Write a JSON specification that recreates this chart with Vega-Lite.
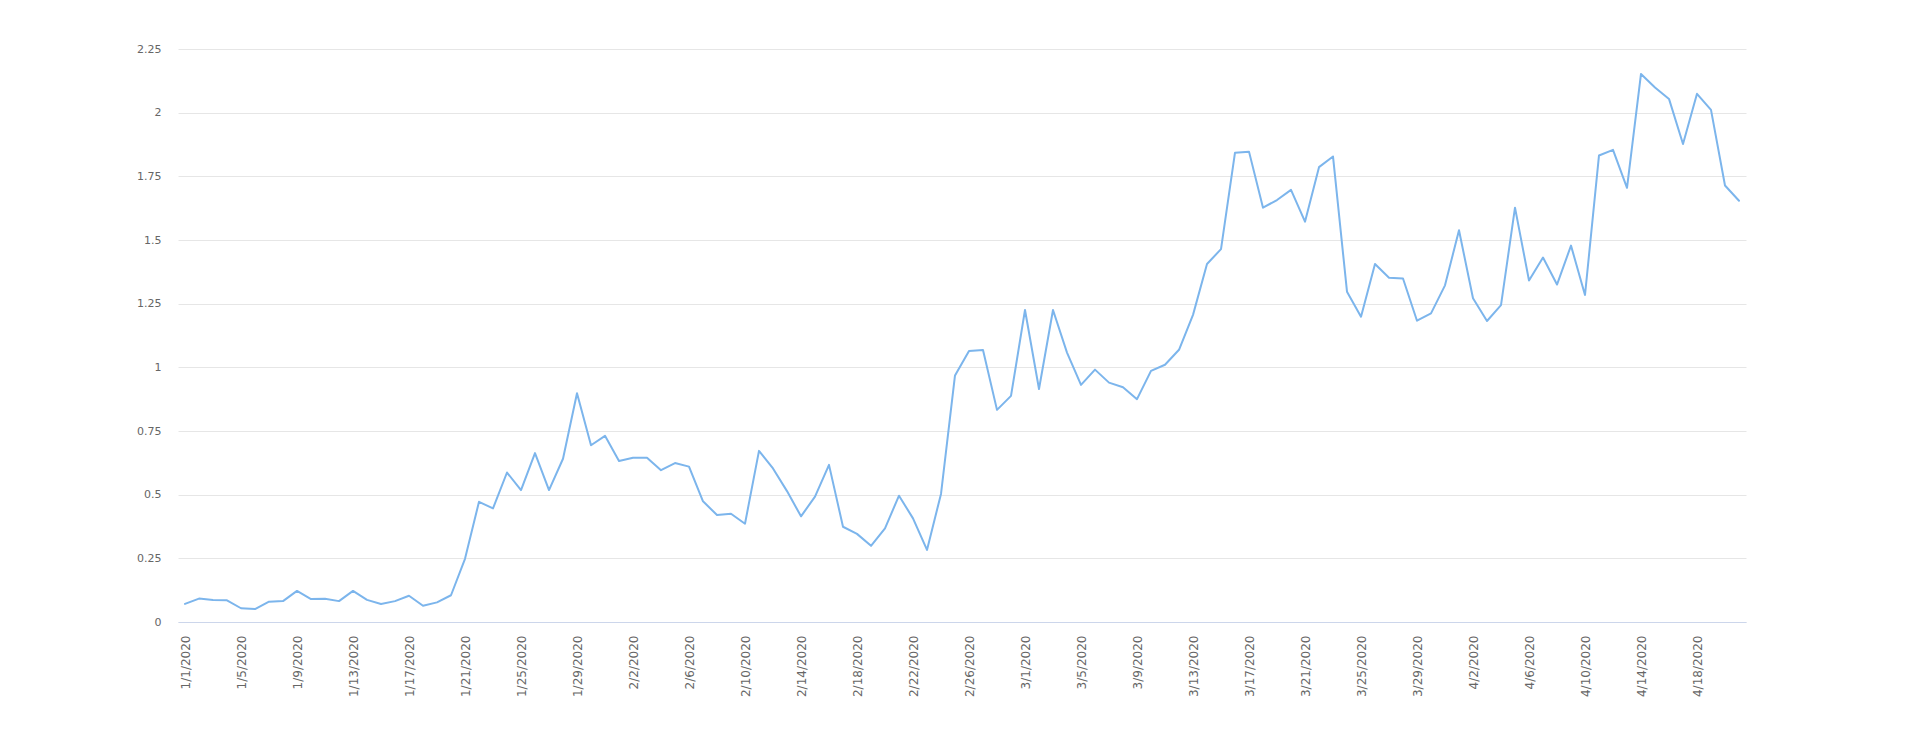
{
  "$schema": "https://vega.github.io/schema/vega-lite/v6.json",
  "description": "Daily values from 1/1/2020 to 4/21/2020 as a single line.",
  "autosize": "none",
  "width": 1568,
  "height": 573,
  "padding": {"left": 178, "top": 49, "right": 174, "bottom": 119},
  "background": "#ffffff",
  "data": {
    "values": [
      {"date": "1/1/2020", "value": 0.071},
      {"date": "1/2/2020", "value": 0.092},
      {"date": "1/3/2020", "value": 0.086},
      {"date": "1/4/2020", "value": 0.085},
      {"date": "1/5/2020", "value": 0.054},
      {"date": "1/6/2020", "value": 0.051},
      {"date": "1/7/2020", "value": 0.08},
      {"date": "1/8/2020", "value": 0.082},
      {"date": "1/9/2020", "value": 0.122},
      {"date": "1/10/2020", "value": 0.09},
      {"date": "1/11/2020", "value": 0.091},
      {"date": "1/12/2020", "value": 0.082},
      {"date": "1/13/2020", "value": 0.122},
      {"date": "1/14/2020", "value": 0.087},
      {"date": "1/15/2020", "value": 0.071},
      {"date": "1/16/2020", "value": 0.082},
      {"date": "1/17/2020", "value": 0.103},
      {"date": "1/18/2020", "value": 0.064},
      {"date": "1/19/2020", "value": 0.077},
      {"date": "1/20/2020", "value": 0.105},
      {"date": "1/21/2020", "value": 0.248},
      {"date": "1/22/2020", "value": 0.472},
      {"date": "1/23/2020", "value": 0.446},
      {"date": "1/24/2020", "value": 0.587},
      {"date": "1/25/2020", "value": 0.518},
      {"date": "1/26/2020", "value": 0.663},
      {"date": "1/27/2020", "value": 0.518},
      {"date": "1/28/2020", "value": 0.641},
      {"date": "1/29/2020", "value": 0.898},
      {"date": "1/30/2020", "value": 0.694},
      {"date": "1/31/2020", "value": 0.731},
      {"date": "2/1/2020", "value": 0.632},
      {"date": "2/2/2020", "value": 0.645},
      {"date": "2/3/2020", "value": 0.645},
      {"date": "2/4/2020", "value": 0.596},
      {"date": "2/5/2020", "value": 0.624},
      {"date": "2/6/2020", "value": 0.61},
      {"date": "2/7/2020", "value": 0.474},
      {"date": "2/8/2020", "value": 0.42},
      {"date": "2/9/2020", "value": 0.425},
      {"date": "2/10/2020", "value": 0.386},
      {"date": "2/11/2020", "value": 0.672},
      {"date": "2/12/2020", "value": 0.603},
      {"date": "2/13/2020", "value": 0.514},
      {"date": "2/14/2020", "value": 0.415},
      {"date": "2/15/2020", "value": 0.492},
      {"date": "2/16/2020", "value": 0.617},
      {"date": "2/17/2020", "value": 0.374},
      {"date": "2/18/2020", "value": 0.346},
      {"date": "2/19/2020", "value": 0.299},
      {"date": "2/20/2020", "value": 0.368},
      {"date": "2/21/2020", "value": 0.496},
      {"date": "2/22/2020", "value": 0.407},
      {"date": "2/23/2020", "value": 0.283},
      {"date": "2/24/2020", "value": 0.503},
      {"date": "2/25/2020", "value": 0.968},
      {"date": "2/26/2020", "value": 1.064},
      {"date": "2/27/2020", "value": 1.068},
      {"date": "2/28/2020", "value": 0.833},
      {"date": "2/29/2020", "value": 0.888},
      {"date": "3/1/2020", "value": 1.225},
      {"date": "3/2/2020", "value": 0.915},
      {"date": "3/3/2020", "value": 1.225},
      {"date": "3/4/2020", "value": 1.058},
      {"date": "3/5/2020", "value": 0.931},
      {"date": "3/6/2020", "value": 0.991},
      {"date": "3/7/2020", "value": 0.94},
      {"date": "3/8/2020", "value": 0.922},
      {"date": "3/9/2020", "value": 0.875},
      {"date": "3/10/2020", "value": 0.986},
      {"date": "3/11/2020", "value": 1.01},
      {"date": "3/12/2020", "value": 1.069},
      {"date": "3/13/2020", "value": 1.206},
      {"date": "3/14/2020", "value": 1.406},
      {"date": "3/15/2020", "value": 1.464},
      {"date": "3/16/2020", "value": 1.843},
      {"date": "3/17/2020", "value": 1.847},
      {"date": "3/18/2020", "value": 1.627},
      {"date": "3/19/2020", "value": 1.657},
      {"date": "3/20/2020", "value": 1.697},
      {"date": "3/21/2020", "value": 1.572},
      {"date": "3/22/2020", "value": 1.786},
      {"date": "3/23/2020", "value": 1.828},
      {"date": "3/24/2020", "value": 1.297},
      {"date": "3/25/2020", "value": 1.199},
      {"date": "3/26/2020", "value": 1.406},
      {"date": "3/27/2020", "value": 1.352},
      {"date": "3/28/2020", "value": 1.349},
      {"date": "3/29/2020", "value": 1.183},
      {"date": "3/30/2020", "value": 1.212},
      {"date": "3/31/2020", "value": 1.322},
      {"date": "4/1/2020", "value": 1.538},
      {"date": "4/2/2020", "value": 1.271},
      {"date": "4/3/2020", "value": 1.182},
      {"date": "4/4/2020", "value": 1.244},
      {"date": "4/5/2020", "value": 1.627},
      {"date": "4/6/2020", "value": 1.341},
      {"date": "4/7/2020", "value": 1.431},
      {"date": "4/8/2020", "value": 1.325},
      {"date": "4/9/2020", "value": 1.478},
      {"date": "4/10/2020", "value": 1.284},
      {"date": "4/11/2020", "value": 1.832},
      {"date": "4/12/2020", "value": 1.854},
      {"date": "4/13/2020", "value": 1.705},
      {"date": "4/14/2020", "value": 2.152},
      {"date": "4/15/2020", "value": 2.099},
      {"date": "4/16/2020", "value": 2.054},
      {"date": "4/17/2020", "value": 1.877},
      {"date": "4/18/2020", "value": 2.074},
      {"date": "4/19/2020", "value": 2.011},
      {"date": "4/20/2020", "value": 1.714},
      {"date": "4/21/2020", "value": 1.654}
    ]
  },
  "mark": {
    "type": "line",
    "color": "#7cb5ec",
    "strokeWidth": 2,
    "strokeJoin": "round",
    "strokeCap": "round"
  },
  "encoding": {
    "x": {
      "field": "date",
      "type": "ordinal",
      "sort": null,
      "scale": {"type": "point", "padding": 0.5},
      "axis": {
        "title": null,
        "values": [
          "1/1/2020", "1/5/2020", "1/9/2020", "1/13/2020", "1/17/2020",
          "1/21/2020", "1/25/2020", "1/29/2020", "2/2/2020", "2/6/2020",
          "2/10/2020", "2/14/2020", "2/18/2020", "2/22/2020", "2/26/2020",
          "3/1/2020", "3/5/2020", "3/9/2020", "3/13/2020", "3/17/2020",
          "3/21/2020", "3/25/2020", "3/29/2020", "4/2/2020", "4/6/2020",
          "4/10/2020", "4/14/2020", "4/18/2020"
        ],
        "labelAngle": 270,
        "labelAlign": "right",
        "labelBaseline": "middle",
        "labelPadding": 13,
        "labelFontSize": 12,
        "ticks": false,
        "grid": false,
        "domainColor": "#ccd6eb",
        "domainWidth": 1,
        "labelOverlap": false
      }
    },
    "y": {
      "field": "value",
      "type": "quantitative",
      "scale": {"domain": [0, 2.25], "nice": false, "zero": true},
      "axis": {
        "title": null,
        "values": [0, 0.25, 0.5, 0.75, 1, 1.25, 1.5, 1.75, 2, 2.25],
        "labelExpr": "datum.value + ''",
        "domain": false,
        "ticks": false,
        "labelPadding": 17,
        "gridColor": "#e6e6e6",
        "gridWidth": 1
      }
    }
  },
  "config": {
    "view": {"stroke": null},
    "axis": {
      "labelFont": "DejaVu Sans",
      "labelFontSize": 11,
      "labelColor": "#666666"
    }
  }
}
